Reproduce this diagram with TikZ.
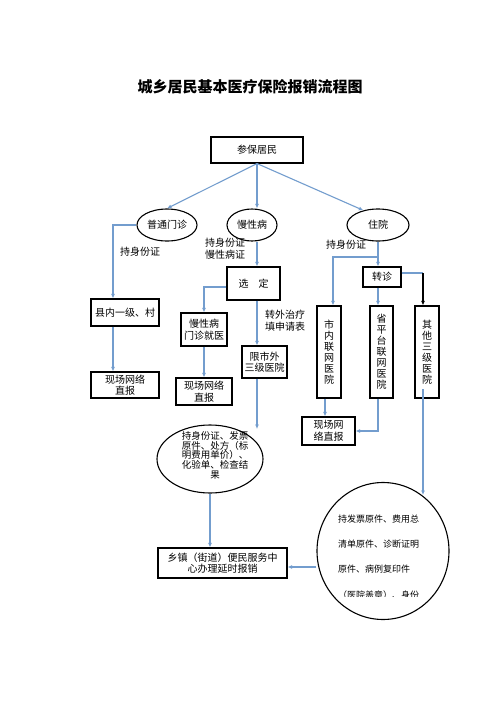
\documentclass[tikz,border=0pt]{standalone}
\usepackage{fontspec}
\setmainfont{Noto Sans CJK SC}
\usetikzlibrary{arrows.meta,shapes.geometric}
\definecolor{connc}{RGB}{115,157,206}
\begin{document}
\begin{tikzpicture}[x=1pt,y=-1pt,
 box/.style={draw=black,line width=1.1pt,rectangle,inner sep=0pt,align=center,font=\fontsize{10}{11.5}\selectfont},
 oval/.style={draw=black,line width=1.1pt,ellipse,inner sep=0pt,align=center,font=\fontsize{10}{11.5}\selectfont},
 vbox/.style={box,minimum width=24pt,minimum height=92pt,font=\fontsize{10}{11}\selectfont},
 conn/.style={draw=connc,line width=1.1pt,-{Latex[length=4.5pt,width=4pt]}},
 lbl/.style={inner sep=0pt,align=left,font=\fontsize{10}{12}\selectfont},
 ctext/.style={inner sep=0pt,anchor=west,font=\fontsize{9}{10}\selectfont},
]
\useasboundingbox (0,0) rectangle (500,707);
\fill[white] (0,0) rectangle (500,707);

% title
\node[font=\fontsize{15}{17}\selectfont\bfseries] (title) at (250,87) {城乡居民基本医疗保险报销流程图};

% nodes
\node[box,minimum width=92pt,minimum height=26pt] (cb) at (257,150) {参保居民};
\node[oval,minimum width=60pt,minimum height=32pt] (mz) at (167,225) {普通门诊};
\node[oval,minimum width=50pt,minimum height=32pt] (mx) at (252,225) {慢性病};
\node[oval,minimum width=62pt,minimum height=32pt] (zy) at (378,225) {住院};

\node[box,minimum width=68pt,minimum height=27pt] (xn) at (125,312.5) {县内一级、村};
\node[box,minimum width=68pt,minimum height=26pt] (xb1) at (125,385) {现场网络\\直报};

\node[box,minimum width=53pt,minimum height=33pt] (xd) at (253.5,283.5) {选\hspace{1em}定};
\node[box,minimum width=46pt,minimum height=33pt] (mb) at (204,329.5) {慢性病\\门诊就医};
\node[box,minimum width=56pt,minimum height=27pt] (xb2) at (204,391.5) {现场网络\\直报};
\node[box,minimum width=45pt,minimum height=32pt] (xs) at (264.5,362) {限市外\\三级医院};

\node[draw=black,line width=1.1pt,ellipse,minimum width=106pt,minimum height=68pt,inner sep=0pt] (oe) at (210,459) {};
\node[box,minimum width=129pt,minimum height=30pt] (xz) at (222.5,563) {乡镇（街道）便民服务中\\心办理延时报销};

\node[box,minimum width=38pt,minimum height=20pt] (zz) at (382,277) {转诊};
\node[vbox] (sn) at (329,352) {市\\内\\联\\网\\医\\院};
\node[vbox,minimum width=23pt] (sp) at (381.5,352) {省\\平\\台\\联\\网\\医\\院};
\node[vbox] (qt) at (427,352) {其\\他\\三\\级\\医\\院};
\node[box,minimum width=53pt,minimum height=28pt] (xb3) at (328.5,431) {现场网\\络直报};

\node[draw=black,line width=1.1pt,ellipse,minimum width=132pt,minimum height=137pt,inner sep=0pt] (bc) at (383,551) {};

% text inside small ellipse (clipped like the original)
\begin{scope}
\clip (150,420) rectangle (270,479);
\node[inner sep=0pt,anchor=north,align=center,font=\fontsize{9.5}{9.6}\selectfont] (oet) at (215,431.5) {持身份证、发票\\原件、处方（标\\明费用单价）、\\化验单、检查结\\果};
\end{scope}

% text inside big circle
\node[ctext] (t1) at (338,519) {持发票原件、费用总};
\node[ctext] (t2) at (338,544) {清单原件、诊断证明};
\node[ctext] (t3) at (338,569) {原件、病例复印件};
\begin{scope}
\clip (320,580) rectangle (450,596);
\node[ctext] (t4) at (338,595) {（医院盖章）、身份};
\end{scope}

% labels
\node[lbl] (l1) at (140,252) {持身份证};
\node[lbl] (l2) at (225,249) {持身份证\\慢性病证};
\node[lbl] (l3) at (285,321) {转外治疗\\填申请表};
\node[lbl] (l4) at (346,245) {持身份证};

% coordinates for free ends
\coordinate (oa) at (257,429);
\coordinate (br) at (378,257);
\coordinate (tq) at (423,273);
\coordinate (qs) at (423,389);
\coordinate (qe) at (423,495);

% connectors
\draw[conn] (cb.south) -- (mz.north);
\draw[conn] (cb.south) -- ([xshift=5pt]mx.north);
\draw[conn] (cb.south) -- (zy.135);

\draw[conn] (mz.west) -| ([xshift=-12pt]xn.north);
\draw[conn] ([xshift=-12pt]xn.south) -- ([xshift=-12pt]xb1.north);

\draw[conn] ([xshift=5pt]mx.south) -- ([xshift=5pt]mx.south |- xd.north);
\draw[conn] ([yshift=-3.5pt]xd.west) -| (mb.north);
\draw[conn] (mb.south) -- (xb2.north);
\draw[conn] ([xshift=3.5pt]xd.south) -- ([xshift=3.5pt]xd.south |- xs.north);
\draw[conn] ([xshift=3.5pt]xd.south |- xs.south) -- (oa);
\draw[conn] (oe.south) -- (oe.south |- xz.north);
\draw[conn] ([yshift=-16pt]bc.west) -- ([yshift=-16pt]bc.west -| xz.east);

\draw[conn] (zy.south) -- (zy.south |- zz.north);
\draw[conn] (br) -| ([xshift=4pt]sn.north);
\draw[conn] ([xshift=-4pt]zz.south) -- ([xshift=-4pt]zz.south |- sp.north);
\draw[draw=connc,line width=1.1pt] ([yshift=4pt]zz.east) -- (tq);
\draw[line width=1.1pt,-{Latex[length=4.5pt,width=4pt]}] (tq) -- (tq |- qt.north);
\draw[conn] ([xshift=-4pt]sn.south) -- ([xshift=-4pt]sn.south |- xb3.north);
\draw[conn] ([xshift=-3.5pt]sp.south) |- (xb3.east);
\draw[conn] (qs) -- (qe);
\end{tikzpicture}
\end{document}
